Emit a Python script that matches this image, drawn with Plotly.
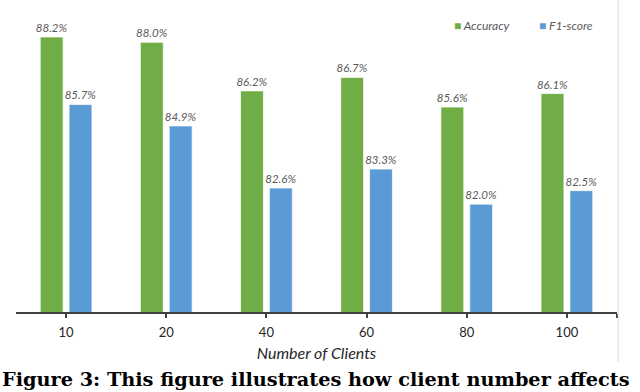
import plotly.graph_objects as go

# Client counts and scores
clients = ["10", "20", "40", "60", "80", "100"]
accuracy = [88.2, 88.0, 86.2, 86.7, 85.6, 86.1]
f1_score = [85.7, 84.9, 82.6, 83.3, 82.0, 82.5]

green = "#70AD47"
blue = "#5B9BD5"
label_grey = "#595959"

x = list(range(len(clients)))  # category positions

fig = go.Figure()
for name, vals, colour in [("Accuracy", accuracy, green), ("F1-score", f1_score, blue)]:
    fig.add_trace(go.Bar(
        name=name,
        x=x,
        y=vals,
        marker=dict(color=colour, line=dict(color="rgba(255,255,255,0.7)", width=1)),
        text=[f"{v:.1f}%" for v in vals],
        textposition="outside",
        constraintext="none",
        textfont=dict(family="Lato", size=11.5, color=label_grey, style="italic"),
        cliponaxis=False,
    ))

fig.update_layout(
    width=640, height=392,
    margin=dict(l=16, r=23, t=3, b=80),
    paper_bgcolor="white", plot_bgcolor="white",
    barmode="group",
    bargap=0.424,
    bargroupgap=0.207,
    showlegend=False,
    xaxis=dict(
        range=[-0.5, 5.5],
        automargin=False,
        tickmode="array", tickvals=x, ticktext=clients,
        ticks="outside", ticklen=4, tickcolor="#404040", tickwidth=1.5,
        ticklabelstandoff=4,
        showline=True, linecolor="#404040", linewidth=1.5,
        showgrid=False, zeroline=False,
        tickfont=dict(family="Lato", size=13, color="#262626"),
        minor=dict(tickvals=[5.5], ticks="outside", ticklen=4, tickcolor="#404040", tickwidth=1.5),
        title=dict(text="Number of Clients", standoff=8,
                   font=dict(family="Lato", size=16, color="#262626", style="italic")),
    ),
    yaxis=dict(
        range=[78, 89.46],
        automargin=False,
        showticklabels=False, showgrid=False, zeroline=False, showline=False,
        ticks="",
    ),
)

# legend drawn as text, the way the original chart shows it
for name, colour, lx in [("Accuracy", green, 452), ("F1-score", blue, 537)]:
    fig.add_annotation(
        text=f"<span style='color:{colour}'>■</span> {name}",
        xref="paper", yref="paper", x=(lx - 16) / 601, y=(312 - 25) / 309,
        xanchor="left", yanchor="middle", showarrow=False,
        font=dict(family="Lato", size=12, color=label_grey, style="italic"),
    )

# light border of the original chart area on the right
fig.add_shape(type="line", xref="paper", yref="paper",
              x0=1.002, x1=1.002, y0=-0.162, y1=1.02,
              line=dict(color="#d9d9d9", width=1))

# figure caption below the chart
fig.add_annotation(
    text="<b>Figure 3: This figure illustrates how client number affects</b>",
    xref="paper", yref="paper", x=(0 - 16) / 601, y=(312 - 379) / 309,
    xanchor="left", yanchor="middle", showarrow=False,
    font=dict(family="DejaVu Serif", size=19.3, color="black"),
)

# drop the default page margin so the figure sits at the window's corner
fig.write_html("out.html", config={"displayModeBar": False},
               post_script="document.body.style.margin = '0';")
